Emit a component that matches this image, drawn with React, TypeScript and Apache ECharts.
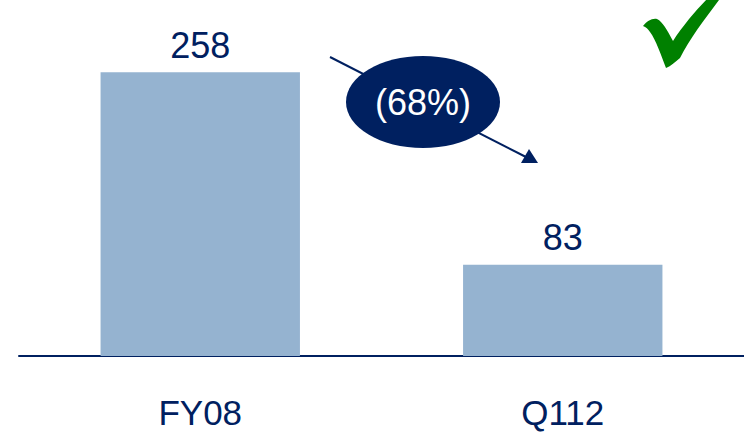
import React, { useEffect, useRef } from "react";
import * as echarts from "echarts";

const categories = ["FY08", "Q112"];
const values = [258, 83];
const changeLabel = "(68%)";

const NAVY = "#002060";
const BAR = "#95B3D0";
const FONT = "Liberation Sans, Arial, sans-serif";

echarts.graphic.registerShape(
  "checkmark",
  echarts.graphic.extendPath(
    "M643,26 C647,21 652,18 657,19 C663,22 667,30 673,41 C684,24 698,8 710,-4 L722,-4 C707,16 690,38 680,58 C675,62 671,66 666,68 C661,55 656,40 650,32 C648,29 646,27 643,26 Z",
    {}
  )
);

export default function App() {
  const ref = useRef<HTMLDivElement>(null);
  useEffect(() => {
    if (!ref.current) return;
    const chart = echarts.init(ref.current, null, { renderer: "svg" });
    chart.setOption({
      animation: false,
      grid: { left: 19, right: 0, top: 4, bottom: 76, containLabel: false },
      xAxis: {
        type: "category",
        data: categories,
        axisLine: { show: true, lineStyle: { color: NAVY, width: 2 } },
        axisTick: { show: false },
        axisLabel: {
          color: NAVY,
          fontSize: 35,
          lineHeight: 30,
          fontFamily: FONT,
          margin: 41,
        },
      },
      yAxis: {
        type: "value",
        min: 0,
        max: 320,
        show: false,
        splitLine: { show: false },
      },
      series: [
        {
          type: "bar",
          data: values,
          barWidth: "55%",
          itemStyle: { color: BAR },
          label: {
            show: true,
            position: "top",
            distance: 9,
            color: NAVY,
            fontSize: 36,
            fontFamily: FONT,
          },
        },
      ],
      graphic: [
        {
          type: "line",
          shape: { x1: 330, y1: 57, x2: 526, y2: 157 },
          style: { stroke: NAVY, lineWidth: 2 },
        },
        {
          type: "polygon",
          shape: { points: [[538, 163], [521, 163], [529, 149]] },
          style: { fill: NAVY },
        },
        {
          type: "ellipse",
          shape: { cx: 423, cy: 102, rx: 77, ry: 46 },
          style: { fill: NAVY },
        },
        {
          type: "text",
          x: 423,
          y: 102,
          style: {
            text: changeLabel,
            fill: "#ffffff",
            fontSize: 36,
            fontFamily: FONT,
            align: "center",
            verticalAlign: "middle",
          },
        },
        {
          type: "checkmark",
          x: 0,
          y: 0,
          style: { fill: "#008000" },
        },
      ],
    });
    return () => chart.dispose();
  }, []);
  return (
    <div
      ref={ref}
      style={{ width: 744, height: 432, position: "absolute", left: 0, top: 0 }}
    />
  );
}
